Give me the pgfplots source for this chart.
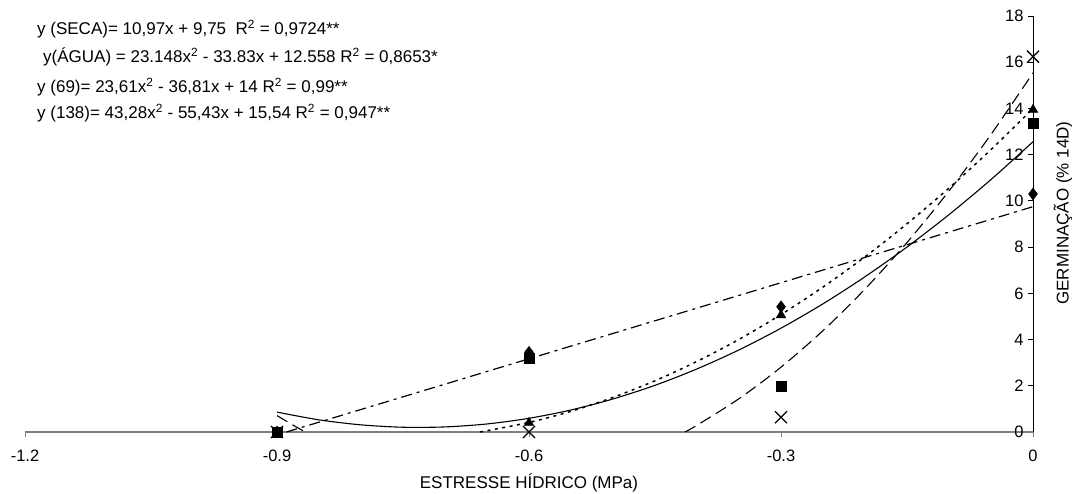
\documentclass[border=0pt]{standalone}
\usepackage{fontspec}
\setmainfont{Liberation Sans}
\usepackage{pgfplots}
\pgfplotsset{compat=1.18}
\begin{document}
\begin{tikzpicture}
\useasboundingbox (-25pt,-61pt) rectangle (1050pt,432pt);
\begin{axis}[
  at={(0pt,0pt)}, anchor=south west,
  scale only axis, width=1008pt, height=416pt,
  xmin=-1.2, xmax=0, ymin=0, ymax=18,
  axis x line=bottom, axis y line=right,
  x axis line style={-, draw=gray, line width=1.6pt},
  y axis line style={-, draw=black, line width=0.9pt},
  xtick={-1.2,-0.9,-0.6,-0.3,0},
  xticklabels={-1.2,-0.9,-0.6,-0.3,0},
  ytick={0,2,4,6,8,10,12,14,16,18},
  yticklabels={0,2,4,6,8,10,12,14,16,18},
  tick align=outside,
  major tick length=5pt,
  xtick style={draw=gray, line width=0.8pt},
  ytick style={draw=black, line width=0.8pt, xshift=-5pt},
  tick label style={font=\fontsize{16.5}{19}\selectfont},
  xticklabel style={yshift=-9pt},
  yticklabel style={anchor=east, xshift=-11pt},
]
% y(AGUA) solid
\addplot[black, line width=1.1pt, smooth] coordinates {
(-0.90,0.861) (-0.85,0.526) (-0.80,0.309) (-0.75,0.206) (-0.70,0.220)
(-0.65,0.348) (-0.60,0.593) (-0.55,0.953) (-0.50,1.430) (-0.45,2.021)
(-0.40,2.730) (-0.35,3.553) (-0.30,4.492) (-0.25,5.547) (-0.20,6.718)
(-0.15,8.004) (-0.10,9.406) (-0.05,10.924) (0,12.558)};
% y(SECA) dash-dot
\addplot[black, line width=1.2pt, dash pattern=on 11pt off 5pt on 3pt off 5pt] coordinates {
(-0.8888,0) (0,9.75)};
% y(69) dotted
\addplot[black, line width=1.5pt, dash pattern=on 3pt off 4.5pt, smooth] coordinates {
(-0.6582,0) (-0.60,0.414) (-0.55,0.896) (-0.50,1.498) (-0.45,2.216)
(-0.40,3.054) (-0.35,4.008) (-0.30,5.082) (-0.25,6.273) (-0.20,7.582)
(-0.15,9.009) (-0.10,10.555) (-0.05,12.218) (0,14.0)};
% y(138) dashed
\addplot[black, line width=1.1pt, dash pattern=on 12pt off 6pt] coordinates {
(-0.90,0.710) (-0.88,0.278) (-0.8662,0)};
\addplot[black, line width=1.1pt, dash pattern=on 12pt off 6pt, smooth] coordinates {
(-0.4145,0) (-0.40,0.293) (-0.35,1.441) (-0.30,2.806) (-0.25,4.387)
(-0.20,6.185) (-0.15,8.199) (-0.10,10.430) (-0.05,12.876) (0,15.54)};
% data points
\addplot[only marks, mark=diamond*, mark size=6pt, black] coordinates {
(-0.9,0) (-0.6,3.45) (-0.3,5.42) (0,10.3)};
\addplot[only marks, mark=triangle*, mark size=5.5pt, black] coordinates {
(-0.9,0) (-0.6,0.4) (-0.3,5.06) (0,13.95)};
\addplot[only marks, mark=x, mark size=8.5pt, black, mark options={line width=1.3pt}] coordinates {
(-0.9,0) (-0.6,0) (-0.3,0.64) (0,16.24)};
\addplot[only marks, mark=square*, mark size=5pt, black] coordinates {
(-0.9,0) (-0.6,3.2) (-0.3,2.0) (0,13.35)};
\end{axis}
\begin{scope}[every node/.style={font=\fontsize{17}{20}\selectfont, inner sep=0pt}]
\node[anchor=base west] at (12pt,397pt) {y (SECA)= 10,97x + 9,75\ \ R\textsuperscript{2} = 0,9724**};
\node[anchor=base west] at (18pt,369pt) {y(ÁGUA) = 23.148x\textsuperscript{2} - 33.83x + 12.558 R\textsuperscript{2} = 0,8653*};
\node[anchor=base west] at (12pt,339pt) {y (69)= 23,61x\textsuperscript{2} - 36,81x + 14 R\textsuperscript{2} = 0,99**};
\node[anchor=base west] at (12pt,313pt) {y (138)= 43,28x\textsuperscript{2} - 55,43x + 15,54 R\textsuperscript{2} = 0,947**};
\node[anchor=base] at (504pt,-56pt) {ESTRESSE HÍDRICO (MPa)};
\node[rotate=90, anchor=center] at (1038pt,219pt) {GERMINAÇÃO (\% 14D)};
\end{scope}
\end{tikzpicture}
\end{document}
